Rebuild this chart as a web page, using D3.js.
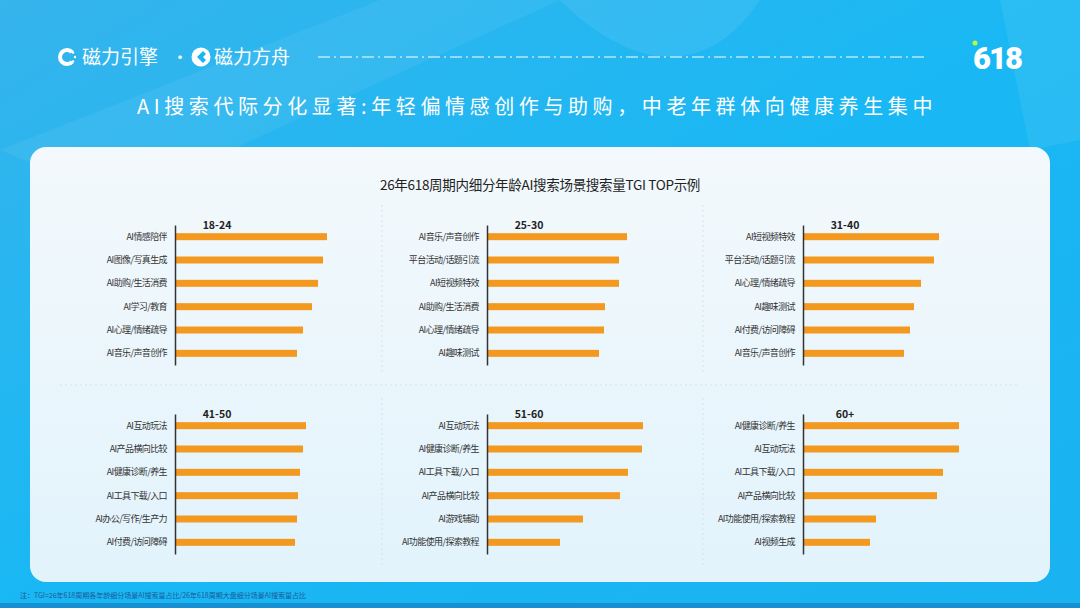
<!DOCTYPE html>
<html><head><meta charset="utf-8">
<script src="https://cdn.jsdelivr.net/npm/d3@7"></script>
<style>
html,body{margin:0;padding:0;background:#1cb4f0;}
svg{display:block;font-family:"Noto Sans CJK SC","Noto Sans",sans-serif;}
</style></head>
<body>
<svg id="c" width="1080" height="608"></svg>
<script>
// ---- data ----
const ageGroups = ["18-24","25-30","31-40","41-50","51-60","60+"];
const cats1824 = ["AI情感陪伴","AI图像/写真生成","AI助购/生活消费","AI学习/教育","AI心理/情绪疏导","AI音乐/声音创作"];
const vals1824 = [152,148,143,137,128,122];
const cats2530 = ["AI音乐/声音创作","平台活动/话题引流","AI短视频特效","AI助购/生活消费","AI心理/情绪疏导","AI趣味测试"];
const vals2530 = [140,132,132,118,117,112];
const cats3140 = ["AI短视频特效","平台活动/话题引流","AI心理/情绪疏导","AI趣味测试","AI付费/访问障碍","AI音乐/声音创作"];
const vals3140 = [136,131,118,111,107,101];
const cats4150 = ["AI互动玩法","AI产品横向比较","AI健康诊断/养生","AI工具下载/入口","AI办公/写作/生产力","AI付费/访问障碍"];
const vals4150 = [131,128,125,123,122,120];
const cats5160 = ["AI互动玩法","AI健康诊断/养生","AI工具下载/入口","AI产品横向比较","AI游戏辅助","AI功能使用/探索教程"];
const vals5160 = [156,155,141,133,96,73];
const cats60 = ["AI健康诊断/养生","AI互动玩法","AI工具下载/入口","AI产品横向比较","AI功能使用/探索教程","AI视频生成"];
const vals60 = [156,156,140,134,73,67];
const panelCats = [cats1824,cats2530,cats3140,cats4150,cats5160,cats60];
const panelVals = [vals1824,vals2530,vals3140,vals4150,vals5160,vals60];

const headline = "AI搜索代际分化显著:年轻偏情感创作与助购，中老年群体向健康养生集中";
const chartTitle = "26年618周期内细分年龄AI搜索场景搜索量TGI TOP示例";
const footnote = "注：TGI=26年618周期各年龄细分场景AI搜索量占比/26年618周期大盘细分场景AI搜索量占比";

// ---- drawing ----
const svg = d3.select("#c");
const defs = svg.append("defs");
const bg = defs.append("linearGradient").attr("id","bg").attr("x1","0").attr("y1","0").attr("x2","1").attr("y2","1");
bg.append("stop").attr("offset","0").attr("stop-color","#36b4ec");
bg.append("stop").attr("offset","0.5").attr("stop-color","#19b8f4");
bg.append("stop").attr("offset","1").attr("stop-color","#1ab2f0");
const card = defs.append("linearGradient").attr("id","card").attr("x1","0").attr("y1","0").attr("x2","0").attr("y2","1");
card.append("stop").attr("offset","0").attr("stop-color","#f3f9fc");
card.append("stop").attr("offset","1").attr("stop-color","#e2f3fc");

svg.append("rect").attr("width",1080).attr("height",608).attr("fill","url(#bg)");
svg.append("path").attr("d","M0,150 L380,0 L560,0 L120,200 Z").attr("fill","#ffffff").attr("opacity",0.06);
svg.append("path").attr("d","M560,0 C620,60 700,90 760,0 Z").attr("fill","#ffffff").attr("opacity",0.08);
svg.append("path").attr("d","M1000,0 L1080,0 L1080,140 L1030,150 Z").attr("fill","#ffffff").attr("opacity",0.07);
svg.append("rect").attr("x",0).attr("y",603).attr("width",1080).attr("height",5).attr("fill","#1690d2");

// logos
const lg = svg.append("g");
lg.append("path").attr("d",d3.arc()({innerRadius:5,outerRadius:9,startAngle:Math.PI/2+0.75,endAngle:Math.PI/2+2*Math.PI-0.75}))
  .attr("transform","translate(67,57)").attr("fill","#fff");
[[73,52.5],[75,57],[73,61.5]].forEach(p=>lg.append("circle").attr("cx",p[0]).attr("cy",p[1]).attr("r",1.2).attr("fill","#fff"));
lg.append("text").attr("x",82).attr("y",64).attr("fill","#fff").attr("font-size",19).attr("font-weight",400).text("磁力引擎");
lg.append("text").attr("x",172).attr("y",63).attr("fill","#fff").attr("font-size",16).text("·");
lg.append("circle").attr("cx",201).attr("cy",57).attr("r",9.5).attr("fill","#fff");
lg.append("path").attr("d","M203,51 L197,57 L203,63 L206,60 L203,57 L206,54 Z").attr("fill","#1cb4f0");
lg.append("text").attr("x",214).attr("y",64).attr("fill","#fff").attr("font-size",19).attr("font-weight",400).text("磁力方舟");
svg.append("line").attr("x1",318).attr("x2",928).attr("y1",57).attr("y2",57)
  .attr("stroke","#fff").attr("stroke-width",1.2).attr("stroke-dasharray","12,4,2,4");
svg.append("text").attr("x",997).attr("y",69).attr("text-anchor","middle").attr("fill","#fff")
  .attr("font-size",31).attr("font-weight",900).attr("font-family","Roboto, 'DejaVu Sans', sans-serif").attr("letter-spacing",-2).text("618");
svg.append("circle").attr("cx",975).attr("cy",43).attr("r",2.5).attr("fill","#b6ff3b");

// headline
svg.append("text").attr("x",537).attr("y",114).attr("text-anchor","middle").attr("fill","#fff")
  .attr("font-size",20).attr("letter-spacing",4.6).text(headline);

// card
svg.append("rect").attr("x",30).attr("y",147).attr("width",1020).attr("height",435).attr("rx",16).attr("fill","url(#card)");

svg.append("text").attr("x",540).attr("y",190).attr("text-anchor","middle").attr("fill","#222")
  .attr("font-size",13.5).attr("font-weight",400).attr("letter-spacing",-0.3).text(chartTitle);

// dividers
const divStyle = s => s.attr("stroke","#d3e3ec").attr("stroke-width",1).attr("stroke-dasharray","2,3");
divStyle(svg.append("line").attr("x1",60).attr("x2",1020).attr("y1",385).attr("y2",385));
[382,703].forEach(xx=>{
  divStyle(svg.append("line").attr("x1",xx).attr("x2",xx).attr("y1",205).attr("y2",372));
  divStyle(svg.append("line").attr("x1",xx).attr("x2",xx).attr("y1",398).attr("y2",565));
});

// panels
const colAxis = [175,487,803];
const rowRange = [[225,365],[414,554]];
const x = d3.scaleLinear().domain([0,160]).range([0,160]);

panelCats.forEach((cats,i)=>{
  const ax = colAxis[i%3];
  const rr = rowRange[Math.floor(i/3)];
  const y = d3.scaleBand().domain(cats).range(rr).paddingInner(0.7).paddingOuter(0.35);
  const g = svg.append("g").attr("transform",`translate(${ax},0)`);
  g.selectAll("rect.bar").data(panelVals[i]).join("rect").attr("class","bar")
    .attr("x",0).attr("y",(d,j)=>y(cats[j])).attr("height",y.bandwidth())
    .attr("width",d=>x(d)).attr("fill","#f3991f");
  const axis = g.append("g").call(d3.axisLeft(y).tickSize(0).tickPadding(8).tickSizeOuter(0));
  axis.select(".domain").attr("stroke","#333").attr("stroke-width",1.5);
  axis.selectAll("text").attr("font-size",9).attr("fill","#333").attr("letter-spacing",-0.6)
    .attr("font-family","'Noto Sans CJK SC',sans-serif");
  g.append("text").attr("x",42).attr("y",rr[0]+4).attr("text-anchor","middle")
    .attr("font-size",10.5).attr("font-weight",700).attr("fill","#222").text(ageGroups[i]);
});

svg.append("text").attr("x",20).attr("y",598).attr("fill","#1d5b9a").attr("font-size",7).text(footnote);
</script>
</body></html>
